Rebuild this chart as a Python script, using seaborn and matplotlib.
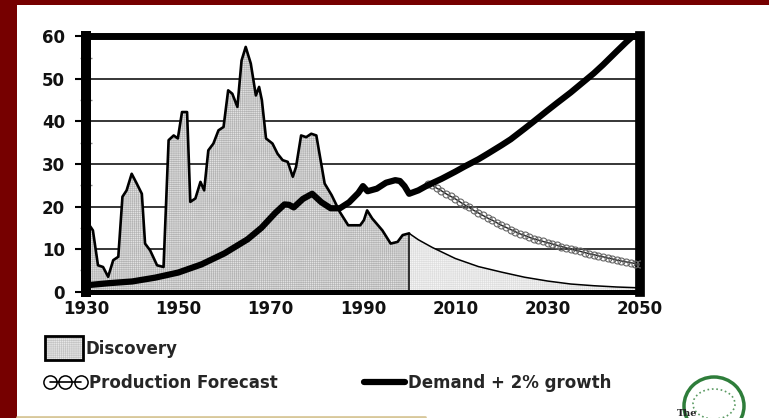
import pandas as pd
import seaborn as sns
import matplotlib.pyplot as plt
from matplotlib.patches import Rectangle, Patch, Ellipse
from matplotlib.lines import Line2D
from matplotlib.legend_handler import HandlerTuple

# discovery, up to 2000
disc_years = [1930, 1931.5, 1932.6, 1933.7, 1934.8, 1935.9, 1937.0, 1937.9, 1938.8, 1939.9,
              1941.0, 1942.1, 1942.8, 1943.9, 1945.4, 1946.8, 1947.9, 1949.0, 1949.9, 1950.8,
              1951.9, 1952.6, 1953.7, 1954.8, 1955.6, 1956.5, 1957.6, 1958.7, 1959.8, 1960.8,
              1961.7, 1962.8, 1963.7, 1964.6, 1965.7, 1966.8, 1967.5, 1968.1, 1969.0, 1970.4,
              1971.5, 1972.6, 1973.7, 1974.8, 1975.5, 1976.6, 1977.7, 1978.8, 1979.9, 1981.7,
              1983.2, 1985.0, 1986.8, 1989.4, 1990.2, 1990.9, 1992.0, 1994.2, 1996.0, 1997.5,
              1998.6, 2000.0]
disc_vals = [16.8, 14.4, 6.2, 5.8, 3.5, 7.4, 8.2, 22.3, 23.8, 27.7,
             25.4, 23.0, 11.3, 9.7, 6.2, 5.8, 35.6, 36.7, 36.0, 42.2,
             42.2, 21.1, 21.9, 25.8, 23.8, 33.2, 34.8, 37.9, 38.7, 47.3,
             46.5, 43.4, 54.3, 57.5, 53.6, 46.1, 48.1, 45.0, 36.0, 34.8,
             32.4, 30.9, 30.5, 27.0, 29.3, 36.7, 36.3, 37.1, 36.7, 25.4,
             22.7, 18.7, 15.6, 15.6, 16.8, 19.1, 17.2, 14.4, 11.3, 11.7,
             13.3, 13.7]

# discovery outlook after 2000
tail_years = [2000, 2002, 2005, 2010, 2015, 2020, 2025, 2030, 2035, 2040, 2045, 2050]
tail_vals = [13.7, 12.2, 10.4, 7.8, 5.9, 4.6, 3.4, 2.5, 1.8, 1.4, 1.1, 0.9]

demand_years = [1930, 1935, 1940, 1945, 1950, 1955, 1960, 1965, 1968, 1971,
                1973, 1974, 1975, 1977, 1979, 1981, 1983, 1985, 1987, 1989,
                1990, 1991, 1993, 1995, 1997, 1998, 1999, 2000, 2002, 2004,
                2007, 2010, 2012, 2015, 2017, 2020, 2022, 2025, 2027, 2030,
                2032, 2035, 2037, 2040, 2042, 2045, 2047, 2050]
demand_vals = [1.5, 2.0, 2.4, 3.3, 4.5, 6.4, 9.0, 12.3, 15.0, 18.5,
               20.5, 20.4, 19.8, 21.8, 23.0, 21.0, 19.6, 19.6, 21.0, 23.2,
               24.8, 23.6, 24.2, 25.6, 26.2, 26.0, 24.8, 23.0, 23.8, 25.0,
               26.5, 28.2, 29.4, 31.1, 32.4, 34.4, 35.8, 38.3, 40.0, 42.6,
               44.3, 46.8, 48.6, 51.3, 53.3, 56.5, 58.6, 61.5]

prod_years = list(range(2004, 2051))
prod_vals = [25.4, 25.0, 24.3, 23.7, 23.0, 22.4, 21.8, 21.1, 20.4, 19.8,
             19.1, 18.5, 17.9, 17.3, 16.8, 16.2, 15.6, 15.1, 14.6, 14.1,
             13.6, 13.2, 12.8, 12.4, 12.1, 11.8, 11.5, 11.2, 10.9, 10.6,
             10.3, 10.0, 9.7, 9.5, 9.2, 8.9, 8.7, 8.4, 8.2, 7.9,
             7.7, 7.4, 7.2, 7.0, 6.8, 6.6, 6.4]

x_ticks = [1930, 1950, 1970, 1990, 2010, 2030, 2050]
y_ticks = [0, 10, 20, 30, 40, 50, 60]

df_disc = pd.DataFrame({"year": disc_years, "value": disc_vals})
df_tail = pd.DataFrame({"year": tail_years, "value": tail_vals})
df_dem = pd.DataFrame({"year": demand_years, "value": demand_vals})
df_prod = pd.DataFrame({"year": prod_years, "value": prod_vals})

sns.set_theme(style="white")
plt.rcParams['font.family'] = ['DejaVu Sans']
plt.rcParams['hatch.linewidth'] = 0.45

fig = plt.figure(figsize=(7.69, 4.18), dpi=100)
fig.patch.set_facecolor("white")
ax = fig.add_axes([0.1118, 0.3022, 0.7204, 0.611])

# fills with a fine grid texture
hatch_fine = '++++++++'
plt.rcParams['hatch.color'] = '#b4b4b4'
ax.fill_between(df_disc["year"], 0, df_disc["value"], facecolor='#e2e2e2',
                edgecolor='#b4b4b4', linewidth=0, hatch=hatch_fine, zorder=1)
plt.rcParams['hatch.color'] = '#dedede'
ax.fill_between(df_tail["year"], 0, df_tail["value"], facecolor='#f4f4f4',
                edgecolor='#dedede', linewidth=0, hatch=hatch_fine, zorder=1)

sns.lineplot(data=df_disc, x="year", y="value", color="black", linewidth=1.9,
             ax=ax, legend=False, zorder=3)
sns.lineplot(data=df_tail, x="year", y="value", color="black", linewidth=1.1,
             ax=ax, legend=False, zorder=3)
ax.vlines(tail_years[0], 0, tail_vals[0], color="black", linewidth=1.1, zorder=3)

sns.lineplot(data=df_prod, x="year", y="value", color="#222222", linewidth=1.0,
             marker="o", markersize=5, markerfacecolor="none",
             markeredgecolor="#666666", markeredgewidth=0.8,
             ax=ax, legend=False, zorder=4)
sns.lineplot(data=df_dem, x="year", y="value", color="black", linewidth=4.5,
             ax=ax, legend=False, zorder=5, solid_capstyle="round")

ax.set_xlim(1930, 2050)
ax.set_ylim(0, 60)
ax.set_xticks(x_ticks)
ax.set_yticks(y_ticks)
ax.set_yticks([5, 15, 25, 35, 45, 55], minor=True)
ax.set_xlabel("")
ax.set_ylabel("")
ax.set_axisbelow(True)
ax.yaxis.grid(True, color="black", linewidth=1.1)
ax.xaxis.grid(False)

for lab in ax.get_xticklabels() + ax.get_yticklabels():
    lab.set_fontweight("bold")
    lab.set_fontsize(12)
    lab.set_color("#111111")
ax.tick_params(axis="y", which="major", left=True, length=8, width=1.5,
               color="black", pad=7)
ax.tick_params(axis="y", which="minor", left=True, length=8, width=1.0,
               color="#888888", direction="inout")
ax.tick_params(axis="x", length=0, pad=6)

for side, w in [("left", 7.2), ("top", 5.0), ("right", 7.0), ("bottom", 3.6)]:
    ax.spines[side].set_visible(True)
    ax.spines[side].set_color("black")
    ax.spines[side].set_linewidth(w)

# legend, three pieces like the original
plt.rcParams['hatch.color'] = '#b4b4b4'
h_disc = (Patch(facecolor='#e8e8e8', edgecolor='#c4c4c4', linewidth=0, hatch=hatch_fine),
          Patch(facecolor='none', edgecolor='black', linewidth=2.0))
h_prod = Line2D([], [], color="black", linewidth=1.2, marker="o", markersize=9.5,
                markerfacecolor="none", markeredgecolor="black", markeredgewidth=1.1)
h_dem = Line2D([], [], color="black", linewidth=4.5)

leg_kw = dict(frameon=False, borderpad=0, borderaxespad=0, handletextpad=0.15,
              prop={"weight": "bold", "size": 12})
fig.legend([h_disc], ["Discovery"], loc="center left", bbox_to_anchor=(0.058, 0.167),
           handlelength=2.3, handleheight=1.8, handler_map={tuple: HandlerTuple(ndivide=1)},
           **leg_kw)
fig.legend([h_prod], ["Production Forecast"], loc="center left", bbox_to_anchor=(0.058, 0.084),
           handlelength=2.5, numpoints=3, **leg_kw)
fig.legend([h_dem], ["Demand + 2% growth"], loc="center left", bbox_to_anchor=(0.473, 0.084),
           handlelength=2.5, **leg_kw)

# page decorations: red frame, thin rule, logo
fig.patches.append(Rectangle((0, 0), 17 / 769, 1, transform=fig.transFigure,
                             facecolor="#760000", edgecolor="none", zorder=-1))
fig.patches.append(Rectangle((0, 1 - 5 / 418), 1, 5 / 418, transform=fig.transFigure,
                             facecolor="#760000", edgecolor="none", zorder=-1))
fig.lines.append(Line2D([17 / 769, 425 / 769], [1.5 / 418, 1.5 / 418],
                        transform=fig.transFigure, color="#d8c89a", linewidth=2))
fig.patches.append(Ellipse((714 / 769, 12 / 418), 60 / 769, 58 / 418,
                           transform=fig.transFigure, facecolor="none",
                           edgecolor="#2e7d3a", linewidth=2.5))
fig.patches.append(Ellipse((714 / 769, 14 / 418), 42 / 769, 30 / 418,
                           transform=fig.transFigure, facecolor="none",
                           edgecolor="#5a9a62", linewidth=1.2, linestyle=":"))
fig.text(677 / 769, 2 / 418, "The", fontsize=7, fontweight="bold", family="serif",
         color="#222222")

fig.savefig("out.png", dpi=100)
